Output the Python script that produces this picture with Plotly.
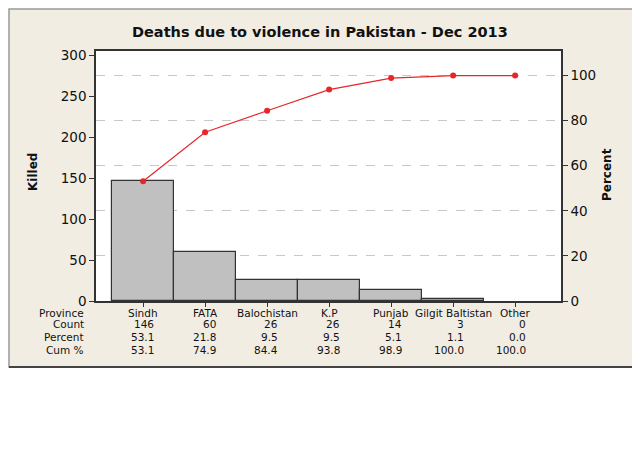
import plotly.graph_objects as go

provinces = ["Sindh", "FATA", "Balochistan", "K.P", "Punjab", "Gilgit Baltistan", "Other"]
counts = [146, 60, 26, 26, 14, 3, 0]
percents = [53.1, 21.8, 9.5, 9.5, 5.1, 1.1, 0.0]
cum_percents = [53.1, 74.9, 84.4, 93.8, 98.9, 100.0, 100.0]
left_ticks = [0, 50, 100, 150, 200, 250, 300]
right_ticks = [0, 20, 40, 60, 80, 100]

total = sum(counts)
left_max = 305
right_max = left_max * 100 / total

# page body has an 8px margin; work in reference pixel coords and shift
OFF = 8
W, H = 640 - OFF, 471 - OFF
L, T = 96 - OFF, 51 - OFF
R = W - (561 - OFF)
B = H - (301 - OFF)
pw, ph = W - L - R, H - T - B

def px(x):
    return (x - OFF - L) / pw

def py(y):
    return (H - B - (y - OFF)) / ph

font = "DejaVu Sans"
fig = go.Figure()
bar_line_widths = [1.2 if c > 0 else 0 for c in counts]
fig.add_trace(go.Bar(x=provinces, y=counts,
                     marker=dict(color="#c0c0c0", line=dict(color="#333333", width=bar_line_widths)),
                     width=1.0, showlegend=False, hoverinfo="skip"))
fig.add_trace(go.Scatter(x=provinces, y=cum_percents, yaxis="y2", mode="lines+markers",
                         line=dict(color="#e8262a", width=1.2), marker=dict(color="#e8262a", size=6),
                         showlegend=False, hoverinfo="skip"))

fl, ft = OFF + 1, OFF + 1
shapes = [
    dict(type="rect", xref="paper", yref="paper", x0=px(fl), x1=px(636), y0=py(367), y1=py(ft),
         fillcolor="#f1ede3", line=dict(color="#999999", width=1.5), layer="below"),
    dict(type="line", xref="paper", yref="paper", x0=px(636), x1=px(636), y0=py(367), y1=py(ft),
         line=dict(color="#444444", width=2), layer="below"),
    dict(type="line", xref="paper", yref="paper", x0=px(fl), x1=px(636), y0=py(367), y1=py(367),
         line=dict(color="#444444", width=2), layer="below"),
    dict(type="rect", xref="paper", yref="paper", x0=0, x1=1, y0=0, y1=1,
         fillcolor="white", line=dict(width=0), layer="below"),
]

annotations = []
rows = [("Province", 313), ("Count", 324), ("Percent", 337), ("Cum %", 350)]
tfont = dict(family=font, size=10.5, color="#111111")
for label, yy in rows:
    annotations.append(dict(text=label, xref="paper", yref="paper", x=px(86), y=py(yy),
                            xanchor="right", yanchor="middle", showarrow=False, font=tfont))
for i, p in enumerate(provinces):
    annotations.append(dict(text=p, xref="x", yref="paper", x=p, y=py(313), xanchor="center",
                            yanchor="middle", showarrow=False, font=tfont))
    for val, yy in [(str(counts[i]), 324), (f"{percents[i]:.1f}", 337), (f"{cum_percents[i]:.1f}", 350)]:
        annotations.append(dict(text=val, xref="x", yref="paper", x=p, xshift=13, y=py(yy), xanchor="right",
                                yanchor="middle", showarrow=False, font=tfont))
annotations.append(dict(text="<b>Killed</b>", xref="paper", yref="paper", x=px(33), y=py(172), textangle=-90,
                        xanchor="center", yanchor="middle", showarrow=False,
                        font=dict(family=font, size=12, color="#111111")))
annotations.append(dict(text="<b>Percent</b>", xref="paper", yref="paper", x=px(607), y=py(175), textangle=-90,
                        xanchor="center", yanchor="middle", showarrow=False,
                        font=dict(family=font, size=12, color="#111111")))
annotations.append(dict(text="<b>Deaths due to violence in Pakistan - Dec 2013</b>", xref="paper", yref="paper",
                        x=px(320), y=py(32), xanchor="center", yanchor="middle", showarrow=False,
                        font=dict(family=font, size=14.5, color="#111111")))

fig.update_layout(
    width=W, height=H, margin=dict(l=L, r=R, t=T, b=B, autoexpand=False),
    paper_bgcolor="white", plot_bgcolor="rgba(0,0,0,0)",
    bargap=0,
    xaxis=dict(type="category", range=[-0.76, 6.74], showticklabels=False, ticks="outside", ticklen=4,
               tickcolor="#333333", showline=True, linecolor="#333333", linewidth=1.5, mirror=True,
               showgrid=False),
    yaxis=dict(range=[0, left_max], tickvals=left_ticks, ticks="outside", ticklen=5, tickcolor="#333333",
               showline=True, linecolor="#333333", linewidth=1.5, showgrid=False, zeroline=False,
               tickfont=dict(family=font, size=13.5, color="#111111")),
    yaxis2=dict(range=[0, right_max], tickvals=right_ticks, overlaying="y", side="right", ticks="outside",
                ticklen=5, tickcolor="#333333", showline=True, linecolor="#333333", linewidth=1.5,
                showgrid=True, gridcolor="#c8c8c8", griddash="dash", gridwidth=1, zeroline=False,
                tickfont=dict(family=font, size=13.5, color="#111111")),
    shapes=shapes, annotations=annotations,
)
fig.write_html("out.html")
